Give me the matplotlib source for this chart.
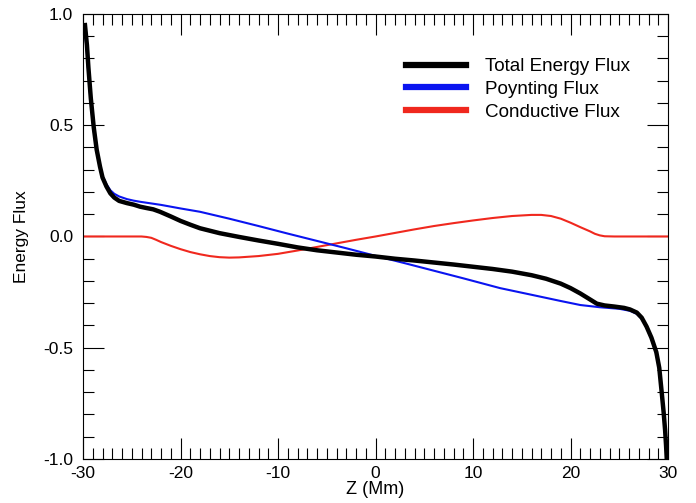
import numpy as np
import matplotlib
matplotlib.use('Agg')
import matplotlib.pyplot as plt
from matplotlib.lines import Line2D
from matplotlib.ticker import MultipleLocator

plt.rcParams['font.family'] = ['Liberation Sans', 'DejaVu Sans']
plt.rcParams['axes.unicode_minus'] = False

# values (Z in Mm, flux normalised)
z_total = [-29.8, -29.6, -29.45, -29.2, -28.9, -28.6, -28.26, -28.0, -27.6, -27.2, -26.8,
           -26.3, -25.5, -24.8, -24.15, -23.5, -22.8, -22.1, -21.0, -20.0, -19.0, -18.0,
           -16.0, -14.0, -12.0, -10.0, -8.0, -6.0, -4.0, -2.0, 0.0, 2.0, 4.0, 6.0, 8.0,
           10.0, 12.0, 14.0, 16.0, 17.5, 19.0, 20.0, 21.0, 22.0, 22.7, 23.5, 24.5, 25.5,
           26.1, 26.8, 27.3, 27.8, 28.3, 28.8, 29.1, 29.35, 29.55, 29.7, 29.8, 29.87]
f_total = [0.95, 0.86, 0.76, 0.62, 0.49, 0.39, 0.314, 0.265, 0.225, 0.194, 0.175,
           0.16, 0.15, 0.143, 0.134, 0.128, 0.122, 0.111, 0.09, 0.07, 0.053, 0.037,
           0.015, -0.002, -0.018, -0.033, -0.049, -0.062, -0.072, -0.082, -0.09, -0.1,
           -0.108, -0.117, -0.126, -0.136, -0.146, -0.158, -0.174, -0.19, -0.212, -0.232,
           -0.256, -0.283, -0.302, -0.31, -0.315, -0.321, -0.328, -0.342, -0.365, -0.405,
           -0.455, -0.52, -0.59, -0.70, -0.79, -0.87, -0.94, -1.0]

z_poynting = [-29.85, -29.65, -29.5, -29.25, -28.95, -28.65, -28.3, -28.0, -27.6, -27.2,
              -26.8, -26.3, -25.5, -24.8, -24.15, -22.0, -20.0, -18.0, -15.0, -12.0, -9.0,
              -6.0, -3.0, 0.0, 3.0, 6.0, 9.0, 12.77, 16.0, 19.0, 21.0, 23.0, 25.0, 26.1,
              26.8, 27.3, 27.8, 28.3, 28.8, 29.1, 29.35, 29.55, 29.7, 29.8, 29.87]
f_poynting = [0.94, 0.85, 0.76, 0.62, 0.49, 0.39, 0.318, 0.272, 0.235, 0.208,
              0.192, 0.18, 0.168, 0.161, 0.156, 0.142, 0.126, 0.111, 0.08, 0.047, 0.013,
              -0.02, -0.053, -0.087, -0.12, -0.154, -0.188, -0.232, -0.262, -0.29, -0.308,
              -0.318, -0.325, -0.334, -0.348, -0.37, -0.41, -0.46, -0.53, -0.60, -0.71,
              -0.80, -0.88, -0.95, -1.0]

z_conductive = [-30.0, -24.0, -23.5, -23.0, -22.5, -22.0, -21.0, -20.0, -19.0, -18.0,
                -17.0, -16.0, -15.0, -14.0, -12.0, -10.0, -8.0, -6.0, -4.0, -2.0, 0.0,
                2.0, 4.0, 6.0, 8.0, 10.0, 12.0, 14.0, 16.0, 17.0, 18.0, 19.0, 20.0, 21.0,
                22.0, 22.5, 23.0, 23.5, 24.5, 30.0]
f_conductive = [0.0, 0.0, -0.002, -0.006, -0.015, -0.025, -0.042, -0.057, -0.07, -0.08,
                -0.088, -0.093, -0.095, -0.094, -0.088, -0.078, -0.063, -0.047, -0.031,
                -0.015, 0.0, 0.016, 0.032, 0.047, 0.06, 0.072, 0.083, 0.092, 0.097, 0.097,
                0.092, 0.08, 0.062, 0.042, 0.023, 0.012, 0.005, 0.001, 0.0, 0.0]

labels = ['Total Energy Flux', 'Poynting Flux', 'Conductive Flux']
colors = ['black', '#0a14f0', '#f0281e']

fig = plt.figure(figsize=(6.96, 5.03), dpi=100)
ax = fig.add_axes([0.1193, 0.0875, 0.8405, 0.8847])

ax.plot(z_conductive, f_conductive, color=colors[2], lw=1.5)
ax.plot(z_poynting, f_poynting, color=colors[1], lw=1.5)
ax.plot(z_total, f_total, color=colors[0], lw=3.2)

ax.set_xlim(-30, 30); ax.set_ylim(-1, 1)
ax.xaxis.set_major_locator(MultipleLocator(10)); ax.xaxis.set_minor_locator(MultipleLocator(1))
ax.yaxis.set_major_locator(MultipleLocator(0.5)); ax.yaxis.set_minor_locator(MultipleLocator(0.1))
ax.yaxis.set_major_formatter(plt.FormatStrFormatter('%.1f'))
ax.tick_params(which='both', direction='in', top=True, right=True, width=0.8, labelsize=12.5)
ax.tick_params(which='major', length=15)
ax.tick_params(which='minor', length=8)
ax.tick_params(axis='x', pad=5)
ax.tick_params(axis='y', pad=7)
for s in ax.spines.values():
    s.set_linewidth(0.8)
ax.set_xlabel('Z (Mm)', fontsize=13, labelpad=0)
ax.set_ylabel('Energy Flux', fontsize=12.5, labelpad=10)

handles = [Line2D([], [], color=c, lw=4.5) for c in colors]
fig.legend(handles, labels, loc='upper left', bbox_to_anchor=(406 / 696, 1 - 58 / 503),
           frameon=False, fontsize=13.6, handlelength=3.2, handletextpad=1.0,
           labelspacing=0.29, borderpad=0, borderaxespad=0)

plt.savefig('out.png', dpi=100)
